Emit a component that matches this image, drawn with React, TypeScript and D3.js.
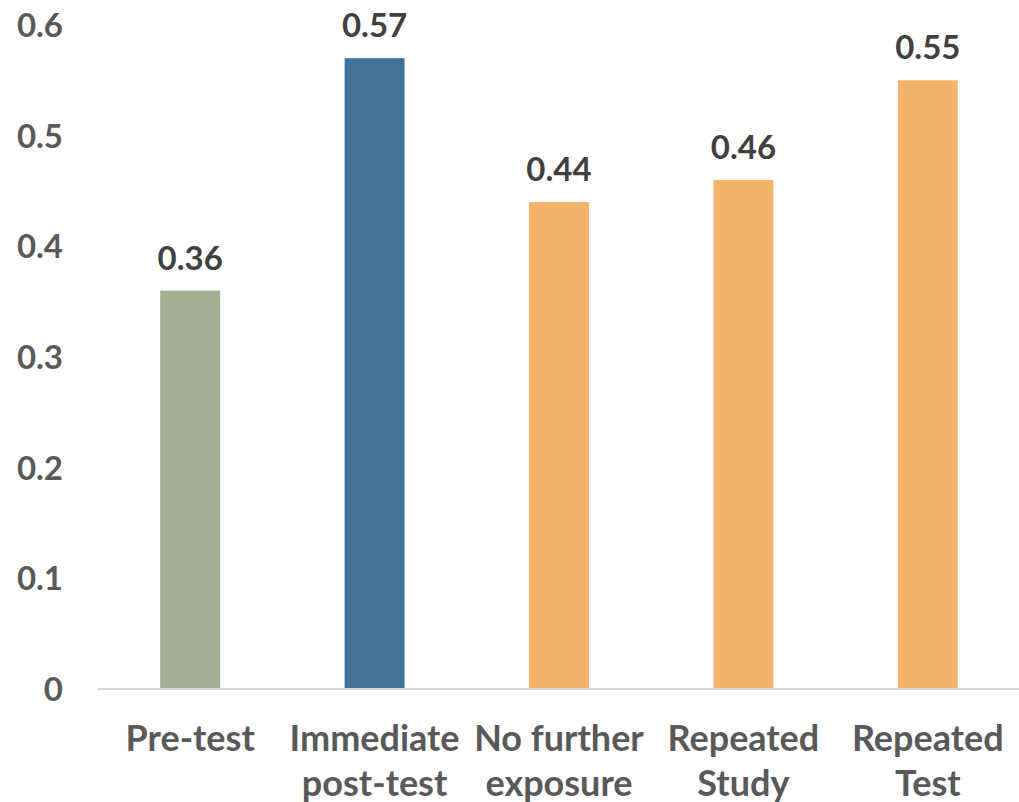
import React, { useRef, useEffect } from 'react';
import * as d3 from 'd3';

const categories = ['Pre-test', 'Immediate post-test', 'No further exposure', 'Repeated Study', 'Repeated Test'];
const categoryLines = [['Pre-test'], ['Immediate', 'post-test'], ['No further', 'exposure'], ['Repeated', 'Study'], ['Repeated', 'Test']];
const values = [0.36, 0.57, 0.44, 0.46, 0.55];
const barColors = ['#a3ae93', '#41729a', '#f3b36b', '#f3b36b', '#f3b36b'];
const yTicks = [0, 0.1, 0.2, 0.3, 0.4, 0.5, 0.6];

const W = 1019;
const H = 802;
const FONT = 'Lato, "Open Sans", sans-serif';
const TEXT = '#595959';

const App: React.FC = () => {
  const ref = useRef<SVGSVGElement>(null);

  useEffect(() => {
    const svg = d3.select(ref.current);
    svg.selectAll('*').remove();

    const x = d3.scaleBand<string>().domain(categories).range([98, 1020]).paddingInner(0.675).paddingOuter(0.3375);
    const y = d3.scaleLinear().domain([0, 0.6]).range([689, 25]);

    // y tick labels, no axis line
    svg.append('g')
      .selectAll('text')
      .data(yTicks)
      .join('text')
      .attr('x', 63)
      .attr('y', d => y(d))
      .attr('dy', '0.36em')
      .attr('text-anchor', 'end')
      .attr('font-family', FONT)
      .attr('font-weight', 700)
      .attr('font-size', 33)
      .attr('fill', TEXT)
      .text(d => (d === 0 ? '0' : d3.format('.1f')(d)));

    svg.append('g')
      .selectAll('rect')
      .data(values)
      .join('rect')
      .attr('x', (d, i) => x(categories[i])!)
      .attr('y', d => y(d))
      .attr('width', x.bandwidth())
      .attr('height', d => y(0) - y(d))
      .attr('fill', (d, i) => barColors[i]);

    svg.append('line')
      .attr('x1', 98)
      .attr('x2', W)
      .attr('y1', y(0))
      .attr('y2', y(0))
      .attr('stroke', '#d9d9d9')
      .attr('stroke-width', 2);

    svg.append('g')
      .selectAll('text')
      .data(values)
      .join('text')
      .attr('x', (d, i) => x(categories[i])! + x.bandwidth() / 2)
      .attr('y', d => y(d) - 21)
      .attr('text-anchor', 'middle')
      .attr('font-family', FONT)
      .attr('font-weight', 700)
      .attr('font-size', 33)
      .attr('fill', '#404040')
      .text(d => d3.format('.2f')(d));

    const labels = svg.append('g')
      .selectAll('text')
      .data(categories)
      .join('text')
      .attr('text-anchor', 'middle')
      .attr('font-family', FONT)
      .attr('font-weight', 700)
      .attr('font-size', 36)
      .attr('fill', TEXT);

    labels.each(function (c, i) {
      const t = d3.select(this);
      categoryLines[i].forEach((line, j) => {
        t.append('tspan')
          .attr('x', x(c)! + x.bandwidth() / 2)
          .attr('y', 751 + j * 45)
          .text(line);
      });
    });
  }, []);

  return (
    <svg ref={ref} width={W} height={H} style={{ position: 'absolute', left: 0, top: 0, background: '#fff' }}></svg>
  );
};

export default App;
